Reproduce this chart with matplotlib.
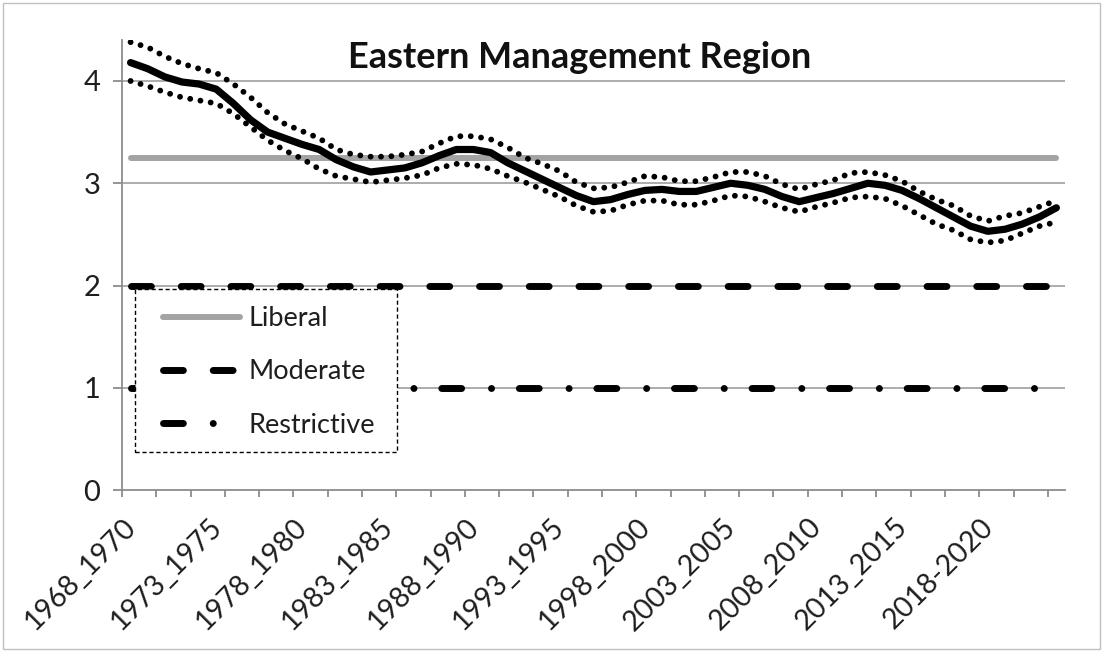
import numpy as np
import matplotlib.pyplot as plt
import matplotlib.transforms as mtransforms
from matplotlib.lines import Line2D
from matplotlib.patches import Rectangle

# three-year windows 1968_1970 ... 2022_2024 (55 points)
mean_vals = [4.18, 4.12, 4.04, 3.99, 3.97, 3.92, 3.78, 3.62, 3.50, 3.44,
             3.38, 3.33, 3.23, 3.16, 3.11, 3.13, 3.15, 3.20, 3.27, 3.33,
             3.33, 3.30, 3.20, 3.12, 3.04, 2.96, 2.88, 2.82, 2.84, 2.89,
             2.93, 2.94, 2.92, 2.92, 2.96, 3.00, 2.98, 2.94, 2.87, 2.82,
             2.86, 2.90, 2.95, 3.00, 2.98, 2.93, 2.85, 2.76, 2.67, 2.58,
             2.53, 2.55, 2.60, 2.67, 2.76]
upper_vals = [4.38, 4.33, 4.24, 4.17, 4.12, 4.08, 3.97, 3.84, 3.69, 3.58,
              3.51, 3.44, 3.33, 3.28, 3.26, 3.26, 3.28, 3.31, 3.39, 3.46,
              3.46, 3.43, 3.35, 3.25, 3.19, 3.12, 3.01, 2.95, 2.96, 3.01,
              3.07, 3.06, 3.02, 3.02, 3.06, 3.11, 3.11, 3.07, 2.99, 2.94,
              2.99, 3.03, 3.10, 3.11, 3.08, 3.02, 2.92, 2.84, 2.78, 2.68,
              2.63, 2.68, 2.71, 2.77, 2.83]
lower_vals = [4.00, 3.95, 3.89, 3.84, 3.81, 3.78, 3.68, 3.55, 3.42, 3.32,
              3.24, 3.14, 3.07, 3.04, 3.01, 3.03, 3.05, 3.08, 3.15, 3.19,
              3.18, 3.14, 3.07, 3.01, 2.94, 2.87, 2.78, 2.72, 2.73, 2.79,
              2.83, 2.83, 2.79, 2.79, 2.83, 2.88, 2.87, 2.82, 2.76, 2.72,
              2.77, 2.81, 2.86, 2.87, 2.85, 2.78, 2.69, 2.60, 2.54, 2.45,
              2.42, 2.44, 2.51, 2.58, 2.62]
liberal_level = 3.25
moderate_level = 2
restrictive_level = 1
tick_labels = ["1968_1970", "1973_1975", "1978_1980", "1983_1985", "1988_1990",
               "1993_1995", "1998_2000", "2003_2005", "2008_2010", "2013_2015",
               "2018-2020"]

plt.rcParams['font.family'] = ['Lato', 'DejaVu Sans']

n = len(mean_vals)
x = np.arange(n)

fig = plt.figure(figsize=(11.03, 6.53), dpi=100)
ax = fig.add_axes([0.1106, 0.2496, 0.8549, 0.689])

grid_c = '#a6a6a6'
lib_c = '#a3a3a3'
text_c = '#1e1e1e'
mod_style = (0, (2.86, 4.3))
res_style = (0, (2.86, 4.3, 0.01, 4.0))
dot_style = (0, (0.01, 1.77))

ax.plot(x, np.full(n, liberal_level), color=lib_c, lw=4.3, solid_capstyle='round', zorder=3)
ax.plot(x, np.full(n, moderate_level), color='black', lw=5,
        linestyle=mod_style, dash_capstyle='round', zorder=3)
ax.plot(x, np.full(n, restrictive_level), color='black', lw=5,
        linestyle=res_style, dash_capstyle='round', zorder=3)

ax.plot(x, upper_vals, color='black', lw=4.2, linestyle=dot_style,
        dash_capstyle='round', zorder=4)
ax.plot(x, lower_vals, color='black', lw=4.2, linestyle=dot_style,
        dash_capstyle='round', zorder=4)
ax.plot(x, mean_vals, color='black', lw=5.2, solid_capstyle='round',
        solid_joinstyle='round', zorder=5)

ax.set_xlim(-0.5, n - 0.5)
ax.set_ylim(0, 4.4)
ax.set_yticks([0, 1, 2, 3, 4])
for yv in [1, 2, 3, 4]:
    ax.axhline(yv, color=grid_c, lw=1.3, zorder=1)

for s in ['top', 'right']:
    ax.spines[s].set_visible(False)
for s in ['left', 'bottom']:
    ax.spines[s].set_color('#8c8c8c')
    ax.spines[s].set_linewidth(1.3)

# tick marks every 2 categories, labels every 5
ax.set_xticks(np.arange(-0.5, n - 1, 2))
ax.set_xticklabels([])
ax.tick_params(axis='x', which='major', length=5, width=1.3, color='#8c8c8c', direction='out')
ax.set_xticks(np.arange(0, n, 5)[:len(tick_labels)], minor=True)
ax.set_xticklabels(tick_labels, minor=True, rotation=45, ha='right',
                   rotation_mode='anchor', fontsize=20.5, color=text_c)
ax.tick_params(axis='x', which='minor', length=0, pad=17)
shift = mtransforms.ScaledTranslation(-8 / 100, 0, fig.dpi_scale_trans)
for lab in ax.get_xticklabels(minor=True):
    lab.set_transform(lab.get_transform() + shift)
ax.tick_params(axis='y', length=6.5, width=1.3, color='#8c8c8c', labelsize=21,
               labelcolor=text_c, pad=9)

fig.text(580 / 1103, 1 - 57 / 653, 'Eastern Management Region', ha='center',
         va='center', fontsize=26, fontweight='bold', color='#111111')

# legend box drawn by hand (dashed border, white fill)
box = Rectangle((135 / 1103, 1 - 452 / 653), 262 / 1103, 163 / 653,
                transform=fig.transFigure, facecolor='white', edgecolor='black',
                lw=1.0, linestyle=(0, (3, 2)), zorder=8)
fig.patches.append(box)

handles = [
    Line2D([], [], color=lib_c, lw=4.3, solid_capstyle='round'),
    Line2D([], [], color='black', lw=5, linestyle=mod_style, dash_capstyle='round'),
    Line2D([], [], color='black', lw=5, linestyle=res_style, dash_capstyle='round'),
]
leg = fig.legend(handles, ['Liberal', 'Moderate', 'Restrictive'], loc='upper left',
                 bbox_to_anchor=(163 / 1103, 1 - 306 / 653),
                 borderaxespad=0, borderpad=0, frameon=False, fontsize=19.5,
                 handlelength=2.85, handletextpad=0.3, labelspacing=1.05,
                 labelcolor=text_c)
leg.set_zorder(10)

fig.patches.append(Rectangle((0.003, 0.006), 0.994, 0.99, transform=fig.transFigure,
                             fill=False, edgecolor='#bfbfbf', lw=1))

fig.savefig('out.png', dpi=100)
